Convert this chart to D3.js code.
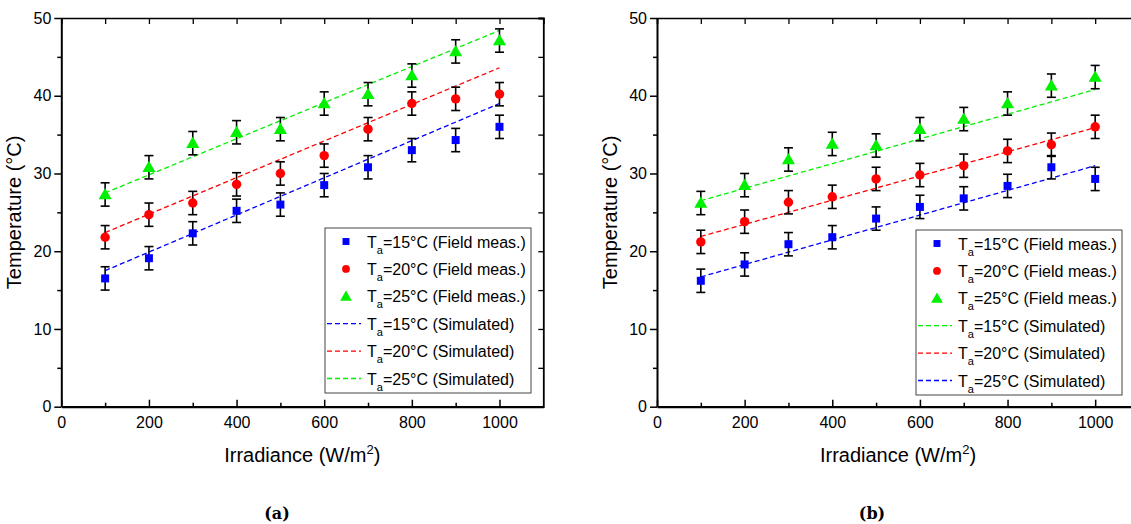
<!DOCTYPE html>
<html>
<head>
<meta charset="utf-8">
<script src="https://cdn.jsdelivr.net/npm/d3@7"></script>
<style>
  body { margin: 0; background: #fff; }
</style>
</head>
<body>
<script>
// irradiance values (W/m2)
var irradiance = [100, 200, 300, 400, 500, 600, 700, 800, 900, 1000];

// panel (a) field measurements
var measA15 = [16.5, 19.1, 22.3, 25.2, 26.0, 28.5, 30.8, 33.0, 34.3, 36.0];
var measA20 = [21.8, 24.7, 26.2, 28.6, 30.0, 32.3, 35.7, 39.0, 39.6, 40.2];
var measA25 = [27.3, 30.8, 33.9, 35.3, 35.7, 39.0, 40.2, 42.6, 45.7, 47.1];
// panel (b) field measurements
var measB15 = [16.2, 18.3, 20.9, 21.8, 24.2, 25.7, 26.8, 28.4, 30.8, 29.3];
var measB20 = [21.2, 23.8, 26.3, 27.0, 29.3, 29.8, 31.0, 32.9, 33.7, 36.0];
var measB25 = [26.2, 28.5, 31.8, 33.8, 33.6, 35.7, 37.0, 39.0, 41.3, 42.4];
// error bar half-heights (deg C)
var errA = [1.5, 1.5, 1.5, 1.5, 1.5, 1.5, 1.5, 1.5, 1.5, 1.5];
var errB = [1.5, 1.5, 1.5, 1.5, 1.5, 1.5, 1.5, 1.5, 1.5, 1.5];

// simulated lines, end points
var simX = [100, 1000];
var simA15 = [17.5, 39.0];
var simA20 = [22.4, 43.6];
var simA25 = [27.5, 48.4];
var simB15 = [16.7, 31.0];
var simB20 = [21.9, 35.9];
var simB25 = [26.5, 40.8];

var labelsMeas = ['=15°C (Field meas.)', '=20°C (Field meas.)', '=25°C (Field meas.)'];
var labelsSim = ['=15°C (Simulated)', '=20°C (Simulated)', '=25°C (Simulated)'];

var BLUE = '#0000ff', RED = '#ff0000', GREEN = '#00f000';
var SANS = '"Liberation Sans", Arial, sans-serif';

var svg = d3.select('body').append('svg')
    .attr('width', 1131).attr('height', 524)
    .attr('font-family', SANS);

/**
 * draws one panel
 */
function drawPanel(p){
    var x = d3.scaleLinear().domain([0, 1100]).range([p.left, p.left + 482]);
    var y = d3.scaleLinear().domain([0, 50]).range([406.7, 18]);
    var g = svg.append('g');

    // frame: top and right thin axes with inner ticks
    g.append('g').attr('transform', 'translate(0,' + y(50) + ')')
        .call(d3.axisBottom(x).tickValues(d3.range(0, 1101, 100)).tickSize(6).tickFormat(''))
        .call(function(a){ a.select('.domain').attr('stroke-width', 1.4); a.selectAll('line').attr('stroke-width', 1.3); });
    g.append('g').attr('transform', 'translate(' + x(1100) + ',0)')
        .call(d3.axisLeft(y).tickValues(d3.range(0, 51, 5)).tickSize(5).tickFormat(''))
        .call(function(a){ a.select('.domain').attr('stroke-width', 1.8); a.selectAll('line').attr('stroke-width', 1.3); });

    // left axis, ticks outward
    var yAxis = g.append('g').attr('transform', 'translate(' + x(0) + ',0)')
        .call(d3.axisLeft(y).tickValues(d3.range(0, 51, 10)).tickSize(7).tickSizeOuter(0).tickPadding(3));
    yAxis.select('.domain').attr('stroke-width', 2);
    yAxis.selectAll('line').attr('stroke-width', 1.5);
    yAxis.selectAll('text').attr('font-size', 16).attr('font-family', SANS);
    g.append('g').attr('transform', 'translate(' + x(0) + ',0)')
        .call(d3.axisLeft(y).tickValues(d3.range(5, 50, 10)).tickSize(4).tickFormat(''))
        .call(function(a){ a.select('.domain').remove(); a.selectAll('line').attr('stroke-width', 1.5); });

    // bottom axis, ticks inward
    var xAxis = g.append('g').attr('transform', 'translate(0,' + y(0) + ')')
        .call(d3.axisBottom(x).tickValues(d3.range(0, 1001, 200)).tickFormat(d3.format('d'))
            .tickSize(-7).tickSizeOuter(0).tickPadding(10));
    xAxis.select('.domain').attr('stroke-width', 2.2);
    xAxis.selectAll('line').attr('stroke-width', 1.5);
    xAxis.selectAll('text').attr('font-size', 16).attr('font-family', SANS);
    g.append('g').attr('transform', 'translate(0,' + y(0) + ')')
        .call(d3.axisBottom(x).tickValues(d3.range(100, 1001, 200)).tickSize(-4).tickFormat(''))
        .call(function(a){ a.select('.domain').remove(); a.selectAll('line').attr('stroke-width', 1.5); });

    // axis titles
    g.append('text')
        .attr('transform', 'translate(' + (p.left - 40) + ',' + y(25) + ') rotate(-90)')
        .attr('text-anchor', 'middle').attr('font-size', 20)
        .text('Temperature (°C)');

    var xt = g.append('text')
        .attr('x', (x(0) + x(1100)) / 2).attr('y', 462)
        .attr('text-anchor', 'middle').attr('font-size', 20);
    xt.append('tspan').text('Irradiance (W/m');
    xt.append('tspan').attr('dy', -8).attr('font-size', 13).text('2');
    xt.append('tspan').attr('dy', 8).text(')');

    // simulated lines
    var line = d3.line().x(function(d){ return x(d[0]); }).y(function(d){ return y(d[1]); });
    p.sims.forEach(function(s){
        g.append('path')
            .datum(d3.zip(simX, s.values))
            .attr('d', line)
            .attr('fill', 'none').attr('stroke', s.color)
            .attr('stroke-width', 1.3).attr('stroke-dasharray', '5,3');
    });

    // measurements with error bars
    var symbols = { square: d3.symbolSquare, circle: d3.symbolCircle, triangle: d3.symbolTriangle };
    var sizes = { square: 64, circle: 70, triangle: 74 };
    p.meas.forEach(function(s){
        var pts = irradiance.map(function(v, i){ return { x: v, y: s.values[i], e: p.err[i] }; });
        var eb = g.append('g').selectAll('g').data(pts).enter().append('g')
            .attr('stroke', '#000').attr('stroke-width', 1.6);
        eb.append('line')
            .attr('x1', function(d){ return x(d.x); }).attr('x2', function(d){ return x(d.x); })
            .attr('y1', function(d){ return y(d.y - d.e); }).attr('y2', function(d){ return y(d.y + d.e); });
        [-1, 1].forEach(function(sg){
            eb.append('line')
                .attr('x1', function(d){ return x(d.x) - 4.5; }).attr('x2', function(d){ return x(d.x) + 4.5; })
                .attr('y1', function(d){ return y(d.y + sg * d.e); }).attr('y2', function(d){ return y(d.y + sg * d.e); });
        });
        g.append('g').selectAll('path').data(pts).enter().append('path')
            .attr('d', d3.symbol().type(symbols[s.shape]).size(sizes[s.shape]))
            .attr('transform', function(d){ return 'translate(' + x(d.x) + ',' + (y(d.y) + (s.shape === 'triangle' ? 1 : 0)) + ')'; })
            .attr('fill', s.color);
    });

    // legend
    var lg = g.append('g');
    lg.append('rect')
        .attr('x', p.legend.x).attr('y', p.legend.y).attr('width', 206).attr('height', 165)
        .attr('fill', '#fff').attr('stroke', '#444').attr('stroke-width', 1);
    var entries = p.meas.map(function(s, i){ return { kind: 'm', s: s, label: labelsMeas[i] }; })
        .concat(p.simLegend.map(function(s, i){ return { kind: 's', s: s, label: labelsSim[i] }; }));
    entries.forEach(function(en, i){
        var cy = p.legend.y + 13.5 + i * 27.4;
        var sx = p.legend.x + 21;
        if(en.kind === 'm'){
            lg.append('path')
                .attr('d', d3.symbol().type(symbols[en.s.shape]).size(en.s.shape === 'triangle' ? 60 : 48)())
                .attr('transform', 'translate(' + sx + ',' + (cy + (en.s.shape === 'triangle' ? 1 : 0)) + ')')
                .attr('fill', en.s.color);
        } else {
            lg.append('line')
                .attr('x1', p.legend.x + 2).attr('x2', p.legend.x + 36)
                .attr('y1', cy).attr('y2', cy)
                .attr('stroke', en.s.color).attr('stroke-width', 1.3).attr('stroke-dasharray', '5,3');
        }
        var t = lg.append('text')
            .attr('x', p.legend.x + 42).attr('y', cy + 6)
            .attr('font-size', 16);
        t.append('tspan').text('T');
        t.append('tspan').attr('dy', 6).attr('font-size', 11).text('a');
        t.append('tspan').attr('dy', -6).text(en.label);
    });

    // caption
    svg.append('text')
        .attr('x', p.caption).attr('y', 519)
        .attr('text-anchor', 'middle')
        .attr('font-family', '"DejaVu Serif", serif').attr('font-weight', 'bold').attr('font-size', 16)
        .text(p.captionText);
}

var shapes = ['square', 'circle', 'triangle'];
var colors = [BLUE, RED, GREEN];

drawPanel({
    left: 61.3,
    meas: [measA15, measA20, measA25].map(function(v, i){ return { values: v, color: colors[i], shape: shapes[i] }; }),
    err: errA,
    sims: [simA15, simA20, simA25].map(function(v, i){ return { values: v, color: colors[i] }; }),
    simLegend: [BLUE, RED, GREEN].map(function(c){ return { color: c }; }),
    legend: { x: 325, y: 228 },
    caption: 277, captionText: '(a)'
});

drawPanel({
    left: 657,
    meas: [measB15, measB20, measB25].map(function(v, i){ return { values: v, color: colors[i], shape: shapes[i] }; }),
    err: errB,
    sims: [simB15, simB20, simB25].map(function(v, i){ return { values: v, color: colors[i] }; }),
    simLegend: [GREEN, RED, BLUE].map(function(c){ return { color: c }; }),
    legend: { x: 916, y: 230 },
    caption: 872, captionText: '(b)'
});
</script>
</body>
</html>
